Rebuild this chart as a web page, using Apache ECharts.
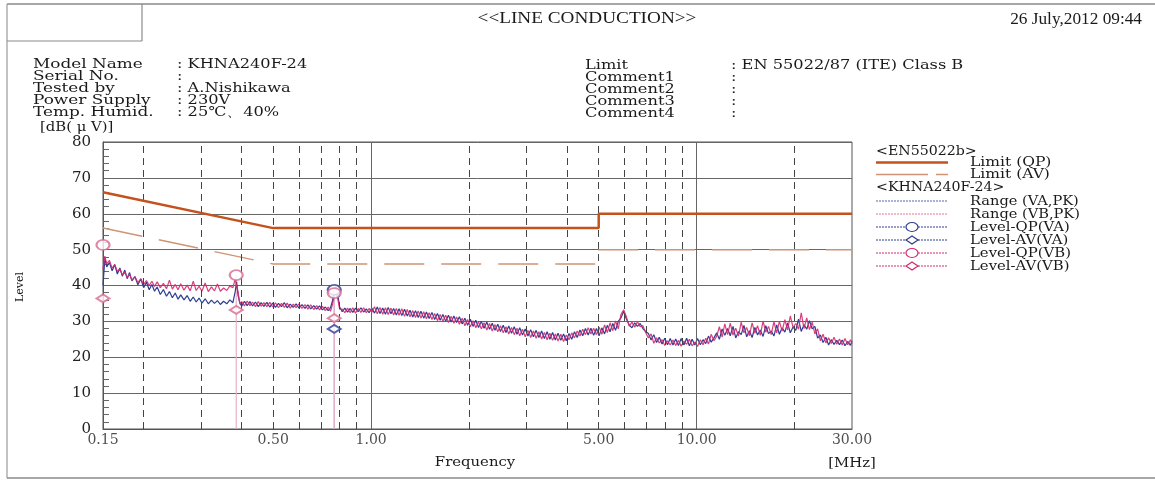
<!DOCTYPE html>
<html><head><meta charset="utf-8">
<script src="https://cdn.jsdelivr.net/npm/echarts@6/dist/echarts.min.js"></script>
<style>html,body{margin:0;padding:0;background:#fff}#c{width:1155px;height:481px}</style>
</head><body><div id="c"></div>
<script>
// ---------- DATA ----------
const freqMHz = [
 0.150,0.152,0.154,0.157,0.160,0.163,0.166,0.169,0.172,0.175,
 0.178,0.181,0.184,0.188,0.192,0.196,0.200,0.204,0.208,0.212,
 0.216,0.220,0.225,0.230,0.235,0.240,0.245,0.250,0.255,0.260,
 0.266,0.272,0.278,0.284,0.290,0.296,0.302,0.309,0.316,0.323,
 0.330,0.337,0.344,0.352,0.360,0.368,0.376,0.382,0.386,0.390,
 0.395,0.400,0.408,0.416,0.424,0.432,0.441,0.450,0.459,0.468,
 0.478,0.488,0.498,0.508,0.519,0.530,0.541,0.552,0.564,0.576,
 0.588,0.600,0.613,0.626,0.639,0.652,0.666,0.680,0.694,0.708,
 0.723,0.738,0.750,0.760,0.770,0.780,0.790,0.800,0.815,0.830,
 0.846,0.862,0.878,0.895,0.912,0.930,0.948,0.966,0.985,1.004,
 1.024,1.044,1.064,1.085,1.106,1.128,1.150,1.172,1.195,1.218,
 1.242,1.266,1.291,1.316,1.342,1.368,1.395,1.422,1.450,1.478,
 1.507,1.537,1.567,1.598,1.629,1.661,1.694,1.727,1.761,1.795,
 1.830,1.866,1.903,1.940,1.978,2.017,2.056,2.096,2.137,2.179,
 2.222,2.266,2.310,2.355,2.401,2.448,2.496,2.545,2.595,2.646,
 2.698,2.751,2.805,2.860,2.916,2.973,3.031,3.090,3.150,3.212,
 3.275,3.339,3.404,3.471,3.539,3.608,3.679,3.751,3.824,3.899,
 3.975,4.053,4.132,4.213,4.295,4.379,4.465,4.552,4.641,4.732,
 4.824,4.918,5.014,5.112,5.212,5.314,5.418,5.524,5.632,5.742,
 5.854,5.968,6.085,6.204,6.325,6.449,6.575,6.703,6.834,6.968,
 7.104,7.243,7.384,7.528,7.675,7.825,7.978,8.134,8.293,8.455,
 8.620,8.788,8.960,9.135,9.313,9.495,9.680,9.869,10.06,10.26,
 10.46,10.66,10.87,11.08,11.30,11.52,11.74,11.97,12.20,12.44,
 12.68,12.93,13.18,13.44,13.70,13.97,14.24,14.52,14.80,15.09,
 15.38,15.68,15.99,16.30,16.62,16.94,17.27,17.61,17.95,18.30,
 18.66,19.02,19.39,19.77,20.16,20.55,20.95,21.36,21.78,22.20,
 22.63,23.07,23.52,23.98,24.45,24.93,25.42,25.91,26.42,26.94,
 27.46,28.00,28.55,29.10,29.67,30.00
];
const rangeVA = [
 40.0,47.6,45.2,46.4,44.1,45.8,43.2,44.9,42.6,44.3,
 41.9,43.6,41.3,42.5,40.2,41.8,39.4,40.9,38.8,40.3,
 38.4,39.6,37.5,38.9,37.0,38.3,36.6,37.9,36.2,37.4,
 36.0,37.2,35.6,36.8,35.4,36.5,35.1,36.3,34.9,35.9,
 35.0,35.8,34.7,35.6,34.9,36.0,35.2,38.2,41.0,37.2,
 35.1,34.2,35.6,34.4,35.5,34.3,35.4,34.1,35.2,34.2,
 35.3,34.0,35.1,33.9,35.0,34.1,35.2,33.8,34.8,33.9,
 34.9,33.7,34.7,33.6,34.6,33.5,34.4,33.4,34.3,33.2,
 34.0,33.0,33.8,35.6,38.9,39.6,37.4,34.0,32.7,33.7,
 32.6,33.6,32.5,33.7,32.7,33.8,32.6,33.5,32.4,33.7,
 32.3,34.0,32.2,33.7,32.0,33.9,32.1,33.6,31.8,33.5,
 31.6,33.4,31.5,33.1,31.2,33.0,31.1,32.8,30.9,32.6,
 30.8,32.5,30.5,32.2,30.3,31.9,30.0,31.7,29.8,31.5,
 29.7,31.3,29.3,30.9,28.9,30.6,28.6,30.3,28.3,30.0,
 28.1,29.8,27.8,29.5,27.5,29.2,27.2,28.9,26.9,28.7,
 26.7,28.5,26.4,28.2,26.2,27.9,25.9,27.7,25.7,27.5,
 25.5,27.3,25.2,27.1,25.0,26.9,24.8,26.7,24.7,26.5,
 24.6,26.6,25.0,27.1,25.5,27.6,26.0,28.0,26.2,28.1,
 26.1,28.0,26.0,28.2,26.5,28.9,27.1,29.4,27.5,30.0,
 31.0,32.8,30.6,29.0,28.2,29.6,28.6,29.4,28.0,27.2,
 26.6,24.8,26.3,24.1,25.6,23.7,25.3,23.5,25.2,23.4,
 25.1,23.3,25.2,23.4,25.3,23.2,25.0,23.4,25.2,23.5,
 24.9,23.8,25.9,24.2,25.4,26.8,25.0,27.9,26.1,28.0,
 26.0,28.6,25.4,27.1,26.3,28.9,25.7,27.4,25.5,28.3,
 26.2,27.6,25.8,28.8,26.6,27.3,25.9,29.0,26.4,28.2,
 27.0,29.6,26.8,28.4,27.5,30.6,27.2,29.1,27.8,30.2,
 27.9,28.6,25.3,26.2,24.1,25.6,23.4,24.9,23.6,24.7,
 23.5,24.8,23.2,24.4,23.3,24.6
];
const rangeVB = [
 44.5,48.2,46.0,47.0,44.8,45.9,43.9,44.6,42.9,43.8,
 42.2,43.1,41.5,42.4,40.8,41.9,40.3,41.4,40.0,41.2,
 39.7,41.0,39.4,40.6,39.1,41.5,39.0,40.3,38.8,40.5,
 38.7,40.1,38.5,41.2,38.6,39.8,38.4,40.7,38.3,39.6,
 38.5,40.4,38.4,39.3,38.6,39.9,39.4,41.8,42.3,38.2,
 34.8,35.5,34.3,35.7,34.4,35.4,34.1,35.5,34.2,35.2,
 34.1,35.3,34.0,35.2,33.8,35.0,33.9,35.1,33.7,34.8,
 33.8,34.9,33.6,34.7,33.4,34.6,33.3,34.4,33.2,34.2,
 33.0,34.0,32.8,34.6,37.2,37.9,36.1,33.4,33.4,32.4,
 33.7,32.4,33.8,32.3,33.6,32.5,33.8,32.4,33.6,32.5,
 34.1,32.1,33.9,32.0,33.8,31.9,33.7,31.8,33.6,31.7,
 33.5,31.4,33.3,31.3,33.0,31.1,32.9,30.9,32.7,30.7,
 32.4,30.5,32.2,30.2,31.9,30.0,31.7,29.7,31.4,29.5,
 31.2,29.2,30.9,28.8,30.5,28.5,30.2,28.2,29.9,27.9,
 29.6,27.6,29.4,27.3,29.1,27.1,28.8,26.8,28.5,26.5,
 28.3,26.3,28.1,26.0,27.8,25.7,27.5,25.5,27.3,25.3,
 27.1,25.1,26.9,24.9,26.7,24.7,26.5,24.5,26.4,24.4,
 26.2,24.9,26.8,25.4,27.3,25.9,27.8,26.3,28.2,26.5,
 28.1,26.3,28.4,26.4,29.0,26.9,29.6,27.4,30.1,27.9,
 32.0,33.2,31.2,28.7,29.8,28.4,29.9,28.5,28.8,26.9,
 25.4,26.5,23.9,25.4,24.0,24.9,23.3,24.6,23.4,24.8,
 23.3,24.7,23.1,24.5,23.6,25.0,23.2,24.2,23.0,24.9,
 23.5,25.3,23.7,26.4,24.6,25.9,28.5,25.6,29.3,26.3,
 29.5,26.2,28.1,25.9,29.8,26.8,28.3,26.0,29.6,26.7,
 28.8,26.1,30.1,27.0,28.6,26.3,29.9,26.8,30.0,27.3,
 30.5,27.6,31.5,28.3,29.4,27.8,32.4,28.0,31.0,27.7,
 29.8,26.5,27.9,24.6,26.4,24.0,25.4,23.8,25.6,23.6,
 25.1,23.4,25.2,23.5,24.9,23.8
];
const limitQP = [[0.15,66],[0.5,56],[5,56],[5,60],[30,60]];
const limitAV = [[0.15,56],[0.5,46],[5,46],[5,50],[30,50]];
const levelQP_VA = [[0.77,38.8]];
const levelAV_VA = [[0.77,27.9]];
const levelQP_VB = [[0.15,51.3],[0.385,42.9],[0.77,37.9]];
const levelAV_VB = [[0.15,36.4],[0.385,33.2],[0.77,30.9]];
const xTickLabels = [0.15,0.5,1,5,10,30];
const solidGridMHz = [1,10];
const dashedGridMHz = [0.2,0.3,0.4,0.5,0.6,0.7,0.8,0.9,2,3,4,5,6,7,8,9,20];
const infoLeft = [['Model Name','KHNA240F-24'],['Serial No.',''],['Tested by','A.Nishikawa'],['Power Supply','230V'],['Temp. Humid.','25℃、40%']];
const infoRight = [['Limit','EN 55022/87 (ITE) Class B'],['Comment1',''],['Comment2',''],['Comment3',''],['Comment4','']];

// ---------- STYLE ----------
const SERIF = "'DejaVu Serif', serif";
const TIMES = "'Liberation Serif', serif";
const C_QP = '#c4521c', C_AV = '#cf9474', C_VA = '#2e3d92', C_VB = '#d42a6e';

function txt(x, y, text, o) {
  o = o || {};
  return { type:'text', x:x, y:y, scaleX:o.sx||1, rotation:o.rot||0, silent:true, z:10,
    style:{ text:text, x:0, y:0, fill:o.color||'#1a1a1a',
      font:(o.size||13)+'px '+(o.family||SERIF),
      textAlign:o.align||'left', textVerticalAlign:'middle', align:o.align||'left', verticalAlign:'middle' } };
}
function ln(x1,y1,x2,y2,stroke,w,dash){
  return { type:'line', silent:true, z:10, shape:{x1:x1,y1:y1,x2:x2,y2:y2},
    style:{stroke:stroke, lineWidth:w||1, lineDash:dash||null} };
}

const g = [];
// page frame
g.push(ln(7,4,1155,4,'#8a8a8a',1.5));
g.push(ln(7,4,7,478,'#9a9a9a',1.2));
g.push(ln(142,4,142,41,'#8a8a8a',1.2));
g.push(ln(7,41,142,41,'#8a8a8a',1.2));
g.push(ln(7,478,1155,478,'#8a8a8a',1.5));
// header
g.push(txt(587,19,'<<LINE CONDUCTION>>',{size:17,family:TIMES,align:'center',sx:1.13}));
g.push(txt(1142,20,'26 July,2012 09:44',{size:16,family:TIMES,align:'right',sx:1.08}));
// info block
const rowsY = [64,76.5,88.5,100.5,112.5];
infoLeft.forEach((r,i)=>{
  g.push(txt(33,rowsY[i],r[0],{size:13.5,sx:1.25}));
  g.push(txt(177,rowsY[i],': '+r[1],{size:13.5,sx:1.2}));
});
infoRight.forEach((r,i)=>{
  g.push(txt(585,rowsY[i]+1,r[0],{size:13.5,sx:1.2}));
  g.push(txt(731,rowsY[i]+1,': '+r[1],{size:13.5,sx:1.2}));
});
g.push(txt(40,127,'[dB( μ V)]',{size:13.5,sx:1.1}));
g.push(txt(20,287,'Level',{size:11,rot:Math.PI/2,align:'center'}));
g.push(txt(475,462,'Frequency',{size:13.5,align:'center',sx:1.1}));
g.push(txt(852,463,'[MHz]',{size:13.5,align:'center',sx:1.1}));
// legend
const LX1 = 876, LX2 = 948, LT = 970, LM = 912;
g.push(txt(LX1,151,'<EN55022b>',{size:13.5,sx:1.05}));
g.push(ln(LX1,162.5,LX2,162.5,C_QP,2.5)); g.push(txt(LT,162.5,'Limit (QP)',{size:13.5,sx:1.15}));
g.push(ln(LX1,174.5,LX2,174.5,C_AV,1.3,[52,8])); g.push(txt(LT,174.5,'Limit (AV)',{size:13.5,sx:1.15}));
g.push(txt(LX1,187,'<KHNA240F-24>',{size:13.5,sx:1.05}));
g.push(ln(LX1,201,LX2,201,'#5565ad',1,[2,1])); g.push(txt(LT,201,'Range (VA,PK)',{size:13.5,sx:1.08}));
g.push(ln(LX1,214,LX2,214,'#e07898',1,[2,1])); g.push(txt(LT,214,'Range (VB,PK)',{size:13.5,sx:1.08}));
const mk = [
  {y:227,c:C_VA,t:'Level-QP(VA)',s:'c'},
  {y:240,c:C_VA,t:'Level-AV(VA)',s:'d'},
  {y:253,c:C_VB,t:'Level-QP(VB)',s:'c'},
  {y:266,c:C_VB,t:'Level-AV(VB)',s:'d'}
];
mk.forEach(m=>{
  g.push(ln(LX1,m.y,LX2,m.y,m.c,1,[2,1]));
  if (m.s==='c') g.push({type:'circle',x:LM,y:m.y,scaleY:0.75,silent:true,z:11,shape:{cx:0,cy:0,r:6},style:{fill:'#fff',stroke:m.c,lineWidth:1.2}});
  else g.push({type:'polygon',silent:true,z:11,shape:{points:[[LM-6,m.y],[LM,m.y-4],[LM+6,m.y],[LM,m.y+4]]},style:{fill:'#fff',stroke:m.c,lineWidth:1.2}});
  g.push(txt(LT,m.y,m.t,{size:13.5,sx:1.1}));
});

function zip(fs, vs){ return vs.map((v,i)=>[fs[i], v]); }
function drops(arr){ const out=[]; arr.forEach(p=>{ if(p[0]>0.15){ out.push([p[0],0],[p[0],p[1]],[p[0],'-']); } }); return out; }

const chart = echarts.init(document.getElementById('c'));
chart.setOption({
  animation:false,
  backgroundColor:'#fff',
  grid:{left:103,right:303,top:142,bottom:52,show:true,borderColor:'#555',borderWidth:1,backgroundColor:'transparent'},
  xAxis:{type:'log',logBase:10,min:0.15,max:30,
    axisLine:{show:true,lineStyle:{color:'#555'}},axisTick:{show:false},axisLabel:{show:false},
    splitLine:{show:false},minorSplitLine:{show:false}},
  yAxis:{type:'value',min:0,max:80,interval:10,
    axisLine:{show:true,lineStyle:{color:'#555'}},
    axisTick:{show:true,inside:true,length:0},
    minorTick:{show:true,splitNumber:5,length:6,lineStyle:{color:'#666'}},
    axisLabel:{fontFamily:'DejaVu Serif',fontSize:15,color:'#222',margin:12},
    splitLine:{show:true,lineStyle:{color:'#666',width:1}}},
  graphic:g,
  series:[
    {name:'grid', type:'scatter', z:1, silent:true,
      data:xTickLabels.map(v=>[v,0]), symbolSize:1, itemStyle:{color:'transparent'},
      label:{show:true,position:'bottom',distance:4,fontFamily:'DejaVu Serif',fontSize:14,color:'#222',
        formatter:p=>p.value[0].toFixed(2)},
      markLine:{silent:true,symbol:'none',label:{show:false},
        data:dashedGridMHz.map(v=>({xAxis:v,lineStyle:{type:[7,5],color:'#444',width:1}}))
          .concat(solidGridMHz.map(v=>({xAxis:v,lineStyle:{type:'solid',color:'#666',width:1}})))}},
    {name:'Limit (AV)',type:'line',data:limitAV,symbol:'none',z:4,lineStyle:{color:C_AV,width:1.5,type:[40,17]}},
    {name:'Limit (QP)',type:'line',data:limitQP,symbol:'none',z:5,lineStyle:{color:C_QP,width:2.5}},
    {name:'dropVA',type:'line',data:drops(levelQP_VA),symbol:'none',connectNulls:false,z:2,lineStyle:{color:'#aab0d6',width:1.2}},
    {name:'dropVB',type:'line',data:drops(levelQP_VB),symbol:'none',connectNulls:false,z:2,lineStyle:{color:'#e6b2c6',width:1.2}},
    {name:'Range (VA,PK)',type:'line',data:zip(freqMHz,rangeVA),symbol:'none',z:3,lineStyle:{color:C_VA,width:1.2}},
    {name:'Range (VB,PK)',type:'line',data:zip(freqMHz,rangeVB),symbol:'none',z:3,lineStyle:{color:C_VB,width:1.2,opacity:0.9}},
    {name:'Level-QP(VA)',type:'scatter',data:levelQP_VA,symbol:'emptyCircle',symbolSize:[13,10],z:6,itemStyle:{color:C_VA,borderWidth:1.3}},
    {name:'Level-AV(VA)',type:'scatter',data:levelAV_VA,symbol:'emptyDiamond',symbolSize:[13,8],z:6,itemStyle:{color:C_VA,borderWidth:1.3}},
    {name:'Level-QP(VB)',type:'scatter',data:levelQP_VB,symbol:'emptyCircle',symbolSize:[13,10],z:6,itemStyle:{color:'#d96a90',borderWidth:1.3}},
    {name:'Level-AV(VB)',type:'scatter',data:levelAV_VB,symbol:'emptyDiamond',symbolSize:[13,8],z:6,itemStyle:{color:'#d96a90',borderWidth:1.3}}
  ]
});
</script>
</body></html>
